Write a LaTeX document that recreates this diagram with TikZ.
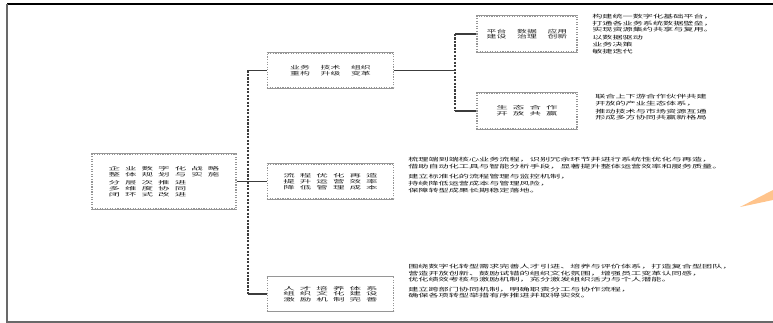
\documentclass[tikz,border=0pt]{standalone}
\usepackage{fontspec}
\newfontfamily\cjknote[FakeStretch=2.0]{Noto Sans CJK SC}
\newfontfamily\cjkbox[FakeStretch=2.4,LetterSpace=105]{Noto Sans CJK SC}
\usetikzlibrary{positioning,calc}
\definecolor{framegray}{RGB}{105,105,105}
\definecolor{boxgray}{RGB}{150,150,150}
\definecolor{linkgray}{RGB}{60,60,60}
\definecolor{callout}{RGB}{255,196,140}

\begin{document}
\begin{tikzpicture}[
        x=0.75pt, y=-0.75pt,
        box/.style={draw=boxgray, densely dotted, line width=0.9pt, minimum width=95pt, minimum height=26pt, align=center, inner sep=0pt, font=\cjkbox\fontsize{3.6}{4.3}\selectfont, text=black!85},
        rootbox/.style={box, minimum width=108pt, minimum height=41pt, align=left},
        subbox/.style={box, minimum width=75pt, minimum height=27pt},
        colbox/.style={font=\cjknote\fontsize{3.7}{4.3}\selectfont},
        note/.style={anchor=north west, inner sep=0pt, align=left, font=\cjknote\fontsize{3.8}{5}\selectfont, text=black!90},
        link/.style={draw=linkgray, line width=0.8pt},
        trunk/.style={draw=linkgray, densely dotted, line width=1.6pt}
    ]
        \useasboundingbox (0,0) rectangle (773,323);

        % Frame
        \draw[black, line width=1.3pt] (7,4) -- (773,4);
        \draw[framegray, line width=1.3pt] (7,4) -- (7,322) -- (773,322);

        % Boxes
        \node[rootbox] (root) at (164,181.5) {企业数字化战略\\整体规划与实施\\[2pt]分层次推进\\多维度协同\\闭环式改进};
        \node[box, colbox] (A) at (330.5,70.5) {业务\hspace{8pt}技术\hspace{8pt}组织\\重构\hspace{8pt}升级\hspace{8pt}变革};
        \node[box] (B) at (330.5,181.5) {流程优化再造\\提升运营效率\\降低管理成本};
        \node[box] (C) at (330.5,294) {人才培养体系\\组织文化建设\\激励机制完善};
        \node[subbox, colbox] (D) at (527,34) {平台\hspace{8pt}数据\hspace{8pt}应用\\建设\hspace{8pt}治理\hspace{8pt}创新};
        \node[subbox] (E) at (527,111) {生态合作\\开放共赢};

        % Solid top and bottom edges
        \foreach \n in {root,A,B,C,D,E}
            \draw[boxgray, line width=0.8pt] (\n.north west) -- (\n.north east) (\n.south west) -- (\n.south east);

        % Notes
        \node[note] (Dnote) at (592,14) {构建统一数字化基础平台，\\打通各业务系统数据壁垒，\\实现资源集约共享与复用。\\[1pt]以数据驱动\\业务决策\\敏捷迭代};
        \node[note] (Enote) at (595,94) {联合上下游合作伙伴共建\\开放的产业生态体系，\\[1pt]推动技术与市场资源互通\\形成多方协同共赢新格局};
        \node[note] (Bnote) at (408,157) {梳理端到端核心业务流程，识别冗余环节并进行系统性优化与再造，\\借助自动化工具与智能分析手段，显著提升整体运营效率和服务质量。\\[3pt]建立标准化的流程管理与监控机制，\\持续降低运营成本与管理风险，\\保障转型成果长期稳定落地。};
        \node[note] (Cnote) at (408,264) {围绕数字化转型需求完善人才引进、培养与评价体系，打造复合型团队，\\营造开放创新、鼓励试错的组织文化氛围，增强员工变革认同感，\\优化绩效考核与激励机制，充分激发组织活力与个人潜能。\\[2pt]建立跨部门协同机制，明确职责分工与协作流程，\\确保各项转型举措有序推进并取得实效。};

        % Connectors
        \coordinate (t1) at (248,0);
        \coordinate (t2) at (455,0);
        \draw[trunk] (A.west -| t1) -- (C.west -| t1);
        \draw[link] (root.east) -- (B.west);
        \draw[link] (A.west -| t1) -- (A.west);
        \draw[link] (C.west -| t1) -- (C.west);
        \draw[link] (A.east) -- (A.east -| t2);
        \draw[trunk] (D.west -| t2) -- (E.west -| t2);
        \draw[link] (D.west -| t2) -- (D.west);
        \draw[link] (E.west -| t2) -- (E.west);

        % Callout tip
        \fill[callout] (740,207) -- (773,190) -- (773,200) -- cycle;
    \end{tikzpicture}
\end{document}
